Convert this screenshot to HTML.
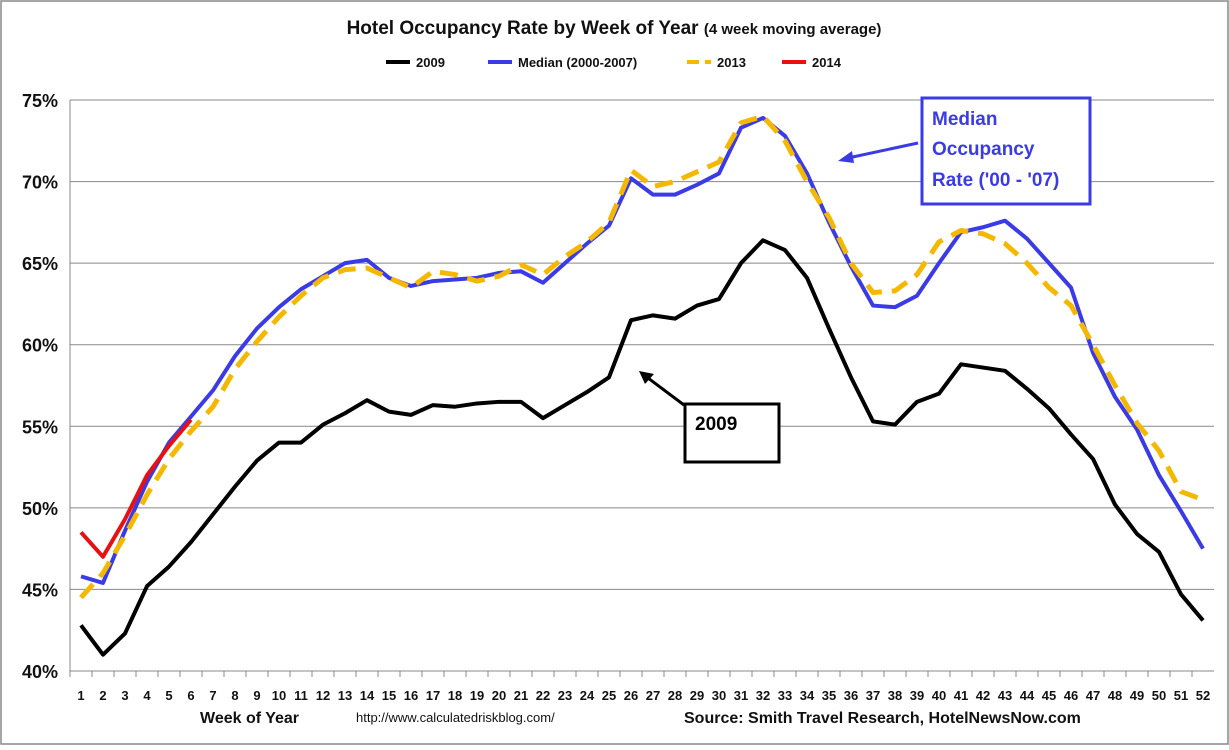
<!DOCTYPE html>
<html><head><meta charset="utf-8"><style>
body{margin:0;background:#fff;font-family:"Liberation Sans",sans-serif}
svg text{font-family:"Liberation Sans",sans-serif}
</style></head><body>
<svg id="c" width="1229" height="745" xmlns="http://www.w3.org/2000/svg">
<rect x="1" y="1" width="1227" height="743" fill="#fff" stroke="#888" stroke-width="1.5"/>
<text x="614" y="34" text-anchor="middle" font-size="19" font-weight="bold" fill="#111">Hotel Occupancy Rate by  Week of Year <tspan font-size="15">(4 week moving average)</tspan></text>
<g id="legend"></g>
<g id="grid"></g><g id="axes"></g><g id="series"></g>
<g>
<line x1="918" y1="143" x2="848" y2="158" stroke="#3a3ae6" stroke-width="3"/>
<polygon points="838,161 852,151 854,163" fill="#3a3ae6"/>
<rect x="922" y="98" width="168" height="106" fill="#fff" stroke="#3a3ae6" stroke-width="3"/>
<text x="932" y="125" font-size="19" font-weight="bold" fill="#3a3ae6">Median</text>
<text x="932" y="155" font-size="19" font-weight="bold" fill="#3a3ae6">Occupancy</text>
<text x="932" y="186" font-size="19" font-weight="bold" fill="#3a3ae6">Rate ('00 - '07)</text>
</g>
<g>
<line x1="684" y1="405" x2="648" y2="378" stroke="#000" stroke-width="3"/>
<polygon points="639,371 654,374 645,384" fill="#000"/>
<rect x="685" y="404" width="94" height="58" fill="#fff" stroke="#000" stroke-width="3"/>
<text x="695" y="430" font-size="19" font-weight="bold" fill="#000">2009</text>
</g>
<text x="200" y="723" font-size="16" font-weight="bold" fill="#111">Week of Year</text>
<text x="356" y="722" font-size="13" fill="#111">http://www.calculatedriskblog.com/</text>
<text x="684" y="723" font-size="16" font-weight="bold" fill="#111">Source: Smith Travel Research, HotelNewsNow.com</text>
</svg>
<script>
const weeks=[];for(let i=1;i<=52;i++)weeks.push(i);
const yTicks=[40,45,50,55,60,65,70,75];
const median=[45.8,45.4,48.6,51.6,54,55.6,57.2,59.3,61,62.3,63.4,64.2,65,65.2,64.1,63.6,63.9,64,64.1,64.4,64.5,63.8,65,66.2,67.3,70.2,69.2,69.2,69.8,70.5,73.3,73.9,72.8,70.5,67.5,64.8,62.4,62.3,63,65,66.9,67.2,67.6,66.5,65,63.5,59.5,56.8,54.8,52,49.8,47.5];
const y2013=[44.5,46,48.3,50.8,53,54.7,56.2,58.5,60.2,61.7,63,64.1,64.6,64.7,64.1,63.5,64.5,64.3,63.9,64.2,64.9,64.3,65.4,66.3,67.5,70.7,69.7,70,70.6,71.2,73.6,74,72.5,70,67.8,65,63.2,63.3,64.3,66.3,67,66.8,66.2,65,63.5,62.4,60,57.5,55.2,53.5,51,50.5];
const y2009=[42.8,41,42.3,45.2,46.4,47.9,49.6,51.3,52.9,54,54,55.1,55.8,56.6,55.9,55.7,56.3,56.2,56.4,56.5,56.5,55.5,56.3,57.1,58,61.5,61.8,61.6,62.4,62.8,65,66.4,65.8,64.1,61,58,55.3,55.1,56.5,57,58.8,58.6,58.4,57.3,56.1,54.5,53,50.2,48.4,47.3,44.7,43.1];
const y2014=[48.5,47,49.3,52,53.8,55.4];
const L=70,R=1214,T=100,B=671;
const xs=w=>L+(w-0.5)*(R-L)/52;
const ys=v=>B-(v-40)*(B-T)/35;
const NS="http://www.w3.org/2000/svg";
function mk(p,t,a){const e=document.createElementNS(NS,t);for(const k in a)e.setAttribute(k,a[k]);p.appendChild(e);return e;}
const grid=document.getElementById('grid'),axes=document.getElementById('axes'),ser=document.getElementById('series'),leg=document.getElementById('legend');
yTicks.forEach(v=>{
 const l=mk(grid,'line',{x1:L,x2:R,y1:ys(v),y2:ys(v),stroke:'#888','stroke-width':1});
 
 
 const t=mk(axes,'text',{x:L-12,y:ys(v)+7,'text-anchor':'end','font-size':18,'font-weight':'bold',fill:'#111'});
 t.textContent=v+'%';
 
 
});
mk(axes,'line',{x1:L,x2:L,y1:T,y2:B,stroke:'#888'});
mk(axes,'line',{x1:L,x2:R,y1:B,y2:B,stroke:'#888'});
weeks.forEach(w=>{
 mk(axes,'line',{x1:xs(w)-11,x2:xs(w)-11,y1:B,y2:B+6,stroke:'#888'});
 const t=mk(axes,'text',{x:xs(w),y:B+29,'text-anchor':'middle','font-size':13,'font-weight':'bold',fill:'#111'});
 t.textContent=w;
 
 
});
function line(data,color,dash,name,w){
 const pts=data.map((v,i)=>xs(weeks[i])+','+ys(v)).join(' ');
 const a={points:pts,fill:'none',stroke:color,'stroke-width':w,'stroke-linejoin':'round'};
 if(dash)a['stroke-dasharray']=dash;
 const p=mk(ser,'polyline',a);
 
 
}
line(y2009,'#000',null,'series-2009',4);
line(median,'#3a3ae6',null,'series-median',4);
line(y2013,'#f5b800','18,10','series-2013',5);
line(y2014,'#e81010',null,'series-2014',4);
const legItems=[['2009','#000',null,386],['Median (2000-2007)','#3a3ae6',null,488],['2013','#f5b800','12,6',687],['2014','#e81010',null,782]];
legItems.forEach(([n,c,d,x])=>{
 const a={x1:x,x2:x+24,y1:62,y2:62,stroke:c,'stroke-width':4};if(d)a['stroke-dasharray']=d;
 mk(leg,'line',a);
 const t=mk(leg,'text',{x:x+30,y:67,'font-size':13,'font-weight':'bold',fill:'#111'});
 t.textContent=n;
 
 
});
</script>
</body></html>
